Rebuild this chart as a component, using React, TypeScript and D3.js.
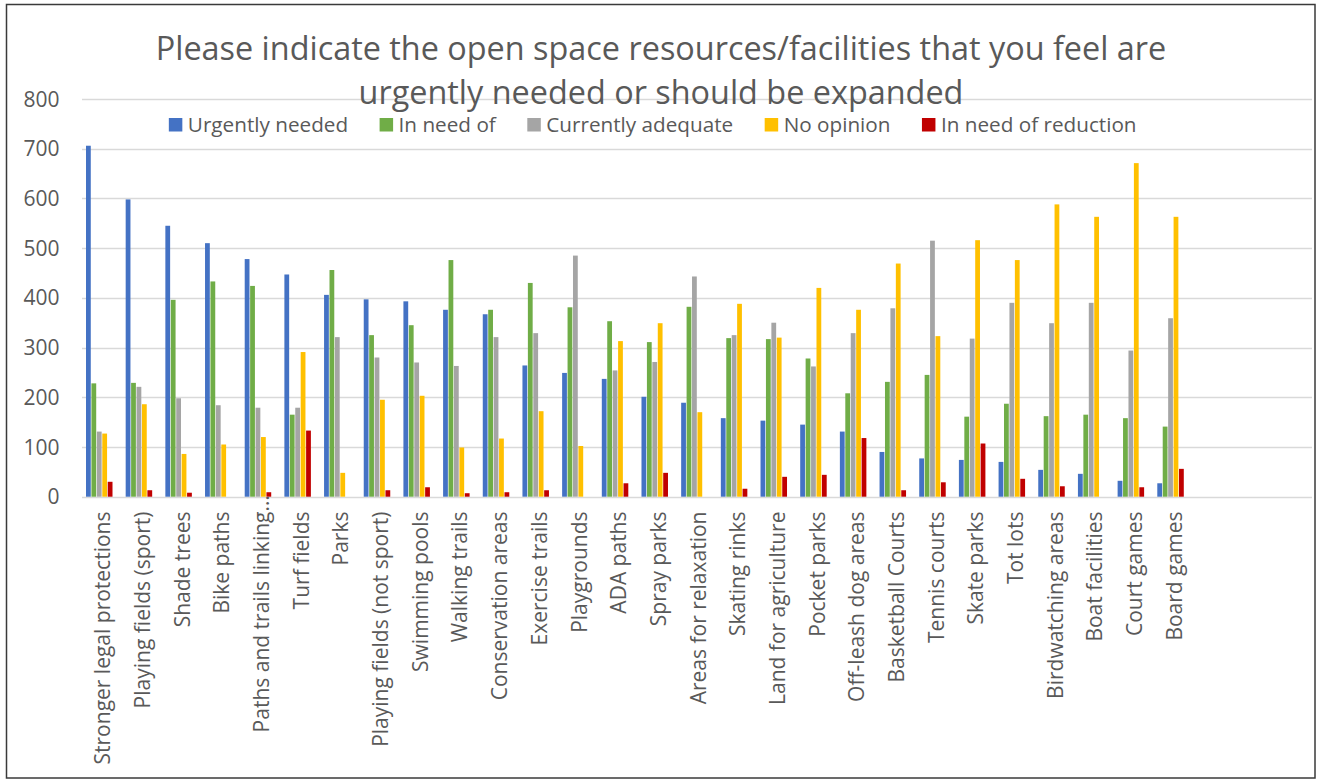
import React, { useEffect, useRef } from "react";
import * as d3 from "d3";

const titleLines = [
  "Please indicate the open space resources/facilities that you feel are",
  "urgently needed or should be expanded",
];

const categories = [
  "Stronger legal protections",
  "Playing fields (sport)",
  "Shade trees",
  "Bike paths",
  "Paths and trails linking…",
  "Turf fields",
  "Parks",
  "Playing fields (not sport)",
  "Swimming pools",
  "Walking trails",
  "Conservation areas",
  "Exercise trails",
  "Playgrounds",
  "ADA paths",
  "Spray parks",
  "Areas for relaxation",
  "Skating rinks",
  "Land for agriculture",
  "Pocket parks",
  "Off-leash dog areas",
  "Basketball Courts",
  "Tennis courts",
  "Skate parks",
  "Tot lots",
  "Birdwatching areas",
  "Boat facilities",
  "Court games",
  "Board games",
];

const seriesNames = [
  "Urgently needed",
  "In need of",
  "Currently adequate",
  "No opinion",
  "In need of reduction",
];

const urgentlyNeeded = [706, 598, 545, 510, 478, 447, 406, 397, 393, 376, 367, 264, 249, 237, 201, 189, 158, 153, 145, 131, 90, 77, 74, 70, 54, 46, 32, 27];
const inNeedOf = [228, 229, 396, 433, 424, 165, 456, 325, 345, 476, 376, 430, 381, 353, 311, 382, 319, 317, 278, 208, 231, 245, 161, 187, 162, 165, 158, 141];
const currentlyAdequate = [131, 221, 198, 184, 179, 179, 321, 280, 270, 263, 321, 329, 485, 254, 271, 443, 325, 350, 262, 329, 379, 515, 318, 390, 349, 390, 294, 359];
const noOpinion = [127, 186, 86, 105, 120, 291, 48, 195, 203, 99, 117, 172, 102, 313, 349, 170, 388, 320, 420, 376, 469, 323, 516, 476, 588, 563, 671, 563];
const inNeedOfReduction = [30, 13, 8, 0, 9, 133, 0, 13, 19, 7, 9, 13, 0, 27, 48, 0, 16, 40, 44, 118, 13, 29, 107, 36, 21, 0, 19, 56];

const yTicks = [0, 100, 200, 300, 400, 500, 600, 700, 800];
const emptyCategorySlots = 3;

export default function App() {
  const ref = useRef<SVGSVGElement>(null);

  useEffect(() => {
    const W = 1317;
    const H = 780;
    const font = "'Open Sans', sans-serif";
    const textColor = "#595959";
    const gridColor = "#D9D9D9";
    const colors = ["#4472C4", "#70AD47", "#A5A5A5", "#FFC000", "#C00000"];
    const seriesValues = [urgentlyNeeded, inNeedOf, currentlyAdequate, noOpinion, inNeedOfReduction];
    const plot = { left: 82, right: 1312, top: 99, bottom: 496.7 };

    const svg = d3.select(ref.current);
    svg.selectAll("*").remove();

    svg.append("rect").attr("x", 0).attr("y", 0).attr("width", W).attr("height", H).attr("fill", "#fff");
    svg
      .append("rect")
      .attr("x", 6.5)
      .attr("y", 4.5)
      .attr("width", 1308.5)
      .attr("height", 773.5)
      .attr("fill", "none")
      .attr("stroke", "#3a3a3a")
      .attr("stroke-width", 1.5);

    const slotCount = categories.length + emptyCategorySlots;
    const step = (plot.right - plot.left) / slotCount;
    const x = d3
      .scaleBand<string>()
      .domain(categories)
      .range([plot.left, plot.left + step * categories.length])
      .paddingInner(0)
      .paddingOuter(0);
    const y = d3.scaleLinear().domain([0, 800]).range([plot.bottom, plot.top]);
    const inner = d3
      .scaleBand<number>()
      .domain(d3.range(seriesNames.length))
      .range([4, 30.5])
      .paddingInner(0.12);

    // gridlines
    svg
      .append("g")
      .selectAll("line")
      .data(yTicks)
      .join("line")
      .attr("x1", plot.left)
      .attr("x2", plot.right)
      .attr("y1", (d) => Math.round(y(d)) + 0.5)
      .attr("y2", (d) => Math.round(y(d)) + 0.5)
      .attr("stroke", gridColor)
      .attr("stroke-width", 1.3);

    // y tick labels
    svg
      .append("g")
      .selectAll("text")
      .data(yTicks)
      .join("text")
      .attr("x", 59.5)
      .attr("y", (d) => y(d))
      .attr("dy", "0.36em")
      .attr("text-anchor", "end")
      .attr("font-family", font)
      .attr("font-size", 21)
      .attr("fill", textColor)
      .text((d) => String(d));

    // bars
    const groups = svg
      .append("g")
      .selectAll("g")
      .data(categories)
      .join("g")
      .attr("transform", (d) => `translate(${x(d)},0)`);

    groups
      .selectAll("rect")
      .data((_, i) => seriesValues.map((vals, s) => ({ s, v: vals[i] })))
      .join("rect")
      .attr("x", (d) => inner(d.s)!)
      .attr("width", inner.bandwidth())
      .attr("y", (d) => y(d.v))
      .attr("height", (d) => y(0) - y(d.v))
      .attr("fill", (d) => colors[d.s]);

    // category labels
    const labelTop = 511.5;
    const labelSize = 21;
    categories.forEach((c) => {
      const cx = x(c)! + x.bandwidth() / 2 + 1;
      const hasEllipsis = c.endsWith("…");
      const main = hasEllipsis ? c.slice(0, -1) : c;
      svg
        .append("text")
        .attr("transform", `translate(${cx},${labelTop}) rotate(-90)`)
        .attr("text-anchor", "end")
        .attr("dy", "0.36em")
        .attr("font-family", font)
        .attr("font-size", labelSize)
        .attr("fill", textColor)
        .text(main);
      if (hasEllipsis) {
        svg
          .append("text")
          .attr("transform", `translate(${cx},${labelTop}) rotate(-90)`)
          .attr("text-anchor", "start")
          .attr("dy", "0.36em")
          .attr("font-family", font)
          .attr("font-size", labelSize)
          .attr("fill", textColor)
          .text("…");
      }
    });

    // title
    const titleCenter = 661;
    const titleBaselines = [60, 104];
    titleLines.forEach((line, i) => {
      svg
        .append("text")
        .attr("x", titleCenter)
        .attr("y", titleBaselines[i])
        .attr("text-anchor", "middle")
        .attr("font-family", font)
        .attr("font-size", 32.4)
        .attr("fill", textColor)
        .text(line);
    });

    // legend
    const legendSize = 13.5;
    const legendTextGap = 5.5;
    const legendItemGap = 31.5;
    const legendCenter = 652.7;
    const legendBaseline = 131.5;
    const legend = svg.append("g");
    const texts = seriesNames.map((name) =>
      legend
        .append("text")
        .attr("y", legendBaseline)
        .attr("font-family", font)
        .attr("font-size", 20.7)
        .attr("fill", textColor)
        .text(name)
    );
    const widths = texts.map((t) => (t.node() as SVGTextElement).getComputedTextLength());
    const total =
      d3.sum(widths) + seriesNames.length * (legendSize + legendTextGap) + (seriesNames.length - 1) * legendItemGap;
    let cursor = legendCenter - total / 2;
    seriesNames.forEach((_, i) => {
      legend
        .append("rect")
        .attr("x", cursor)
        .attr("y", 118)
        .attr("width", legendSize)
        .attr("height", legendSize)
        .attr("fill", colors[i]);
      texts[i].attr("x", cursor + legendSize + legendTextGap);
      cursor += legendSize + legendTextGap + widths[i] + legendItemGap;
    });
  }, []);

  return (
    <svg
      ref={ref}
      width={1317}
      height={780}
      style={{ position: "absolute", left: 0, top: 0, display: "block" }}
    />
  );
}
